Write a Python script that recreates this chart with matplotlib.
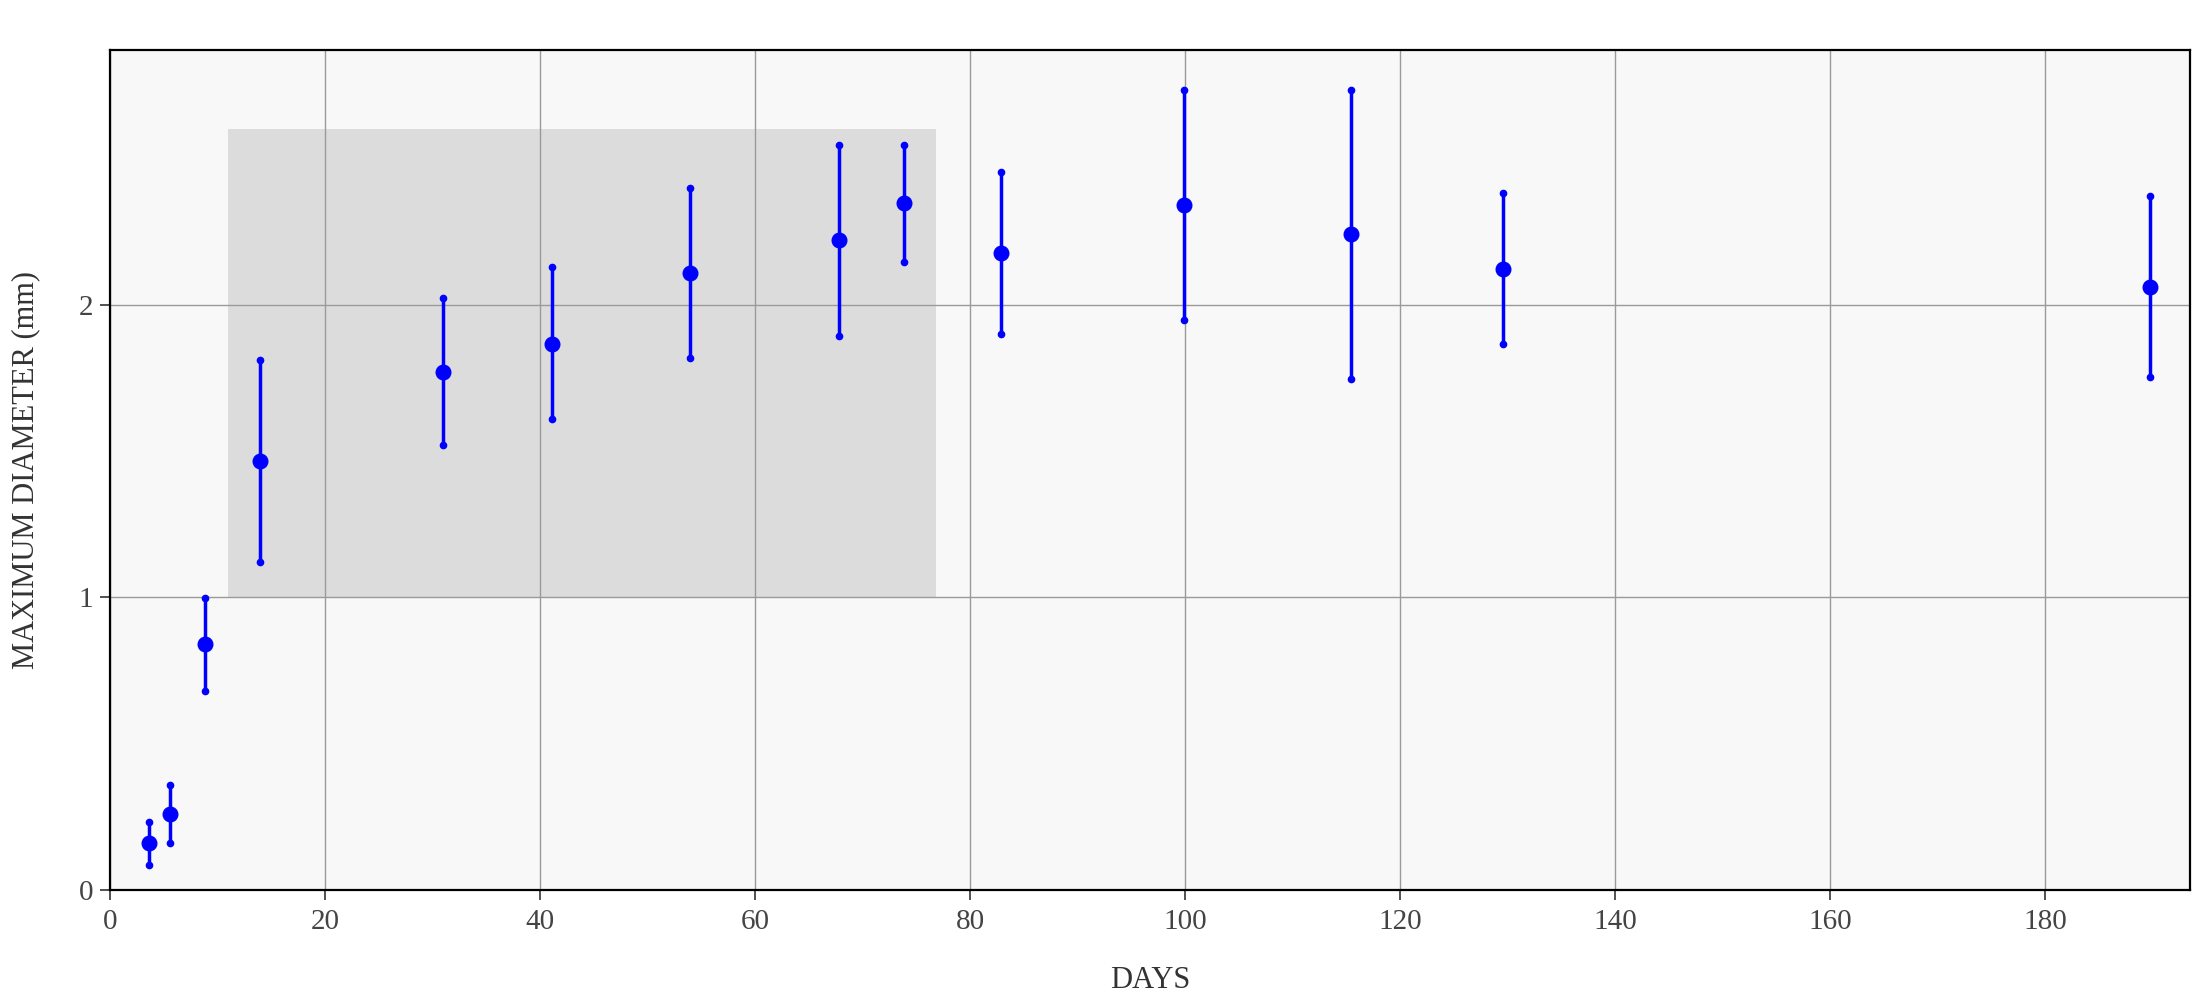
import matplotlib
matplotlib.use("Agg")
import matplotlib.pyplot as plt
from matplotlib.patches import Rectangle

days = [3.6, 5.6, 8.8, 14.0, 31.0, 41.1, 54.0, 67.8, 73.9, 82.9, 99.9, 115.4, 129.6, 189.8]
mean_diam = [0.160, 0.259, 0.839, 1.465, 1.771, 1.866, 2.107, 2.220, 2.346, 2.175, 2.340, 2.240, 2.122, 2.061]
upper_diam = [0.234, 0.359, 0.998, 1.812, 2.021, 2.128, 2.397, 2.547, 2.547, 2.453, 2.733, 2.735, 2.383, 2.372]
lower_diam = [0.087, 0.160, 0.681, 1.119, 1.520, 1.608, 1.816, 1.893, 2.146, 1.898, 1.947, 1.746, 1.864, 1.752]

band_x = [11.0, 76.8]
band_y = [1.0, 2.6]

x_ticks = [0, 20, 40, 60, 80, 100, 120, 140, 160, 180]
y_ticks = [0, 1, 2]

plt.rcParams['font.family'] = ['Liberation Serif', 'DejaVu Serif']

fig = plt.figure(figsize=(22, 10), dpi=100)
ax = fig.add_axes([0.05, 0.11, 0.9455, 0.84])
ax.set_facecolor('#f8f8f8')

ax.add_patch(Rectangle((band_x[0], band_y[0]), band_x[1] - band_x[0], band_y[1] - band_y[0],
                       facecolor='#dcdcdc', edgecolor='none', zorder=0.5))

ax.grid(True, color='#9a9a9a', linewidth=1.0, zorder=1)
ax.set_axisbelow(True)

for x, lo, hi in zip(days, lower_diam, upper_diam):
    ax.plot([x, x], [lo, hi], color='#0000ff', linewidth=2.5, zorder=3, solid_capstyle='butt')
ax.plot(days, upper_diam, 'o', color='#0000ff', markersize=4.5, zorder=4)
ax.plot(days, lower_diam, 'o', color='#0000ff', markersize=4.5, zorder=4)
ax.plot(days, mean_diam, 'o', color='#0000ff', markersize=10.5, zorder=5)

ax.set_xlim(0, 193.5)
ax.set_ylim(0, 2.87)
ax.set_xticks(x_ticks)
ax.set_yticks(y_ticks)

for s in ax.spines.values():
    s.set_color('black')
    s.set_linewidth(1.6)

ax.tick_params(axis='both', direction='out', length=7, width=1.2, color='#333333',
               labelsize=21, labelcolor='#444444')
ax.tick_params(axis='x', pad=7)
ax.tick_params(axis='y', pad=5)

ax.set_xlabel('DAYS', fontsize=22, color='#333333', labelpad=22)
ax.set_ylabel('MAXIMUM DIAMETER (mm)', fontsize=22, color='#333333', labelpad=28)

fig.savefig('out.png', dpi=100, facecolor='white')
